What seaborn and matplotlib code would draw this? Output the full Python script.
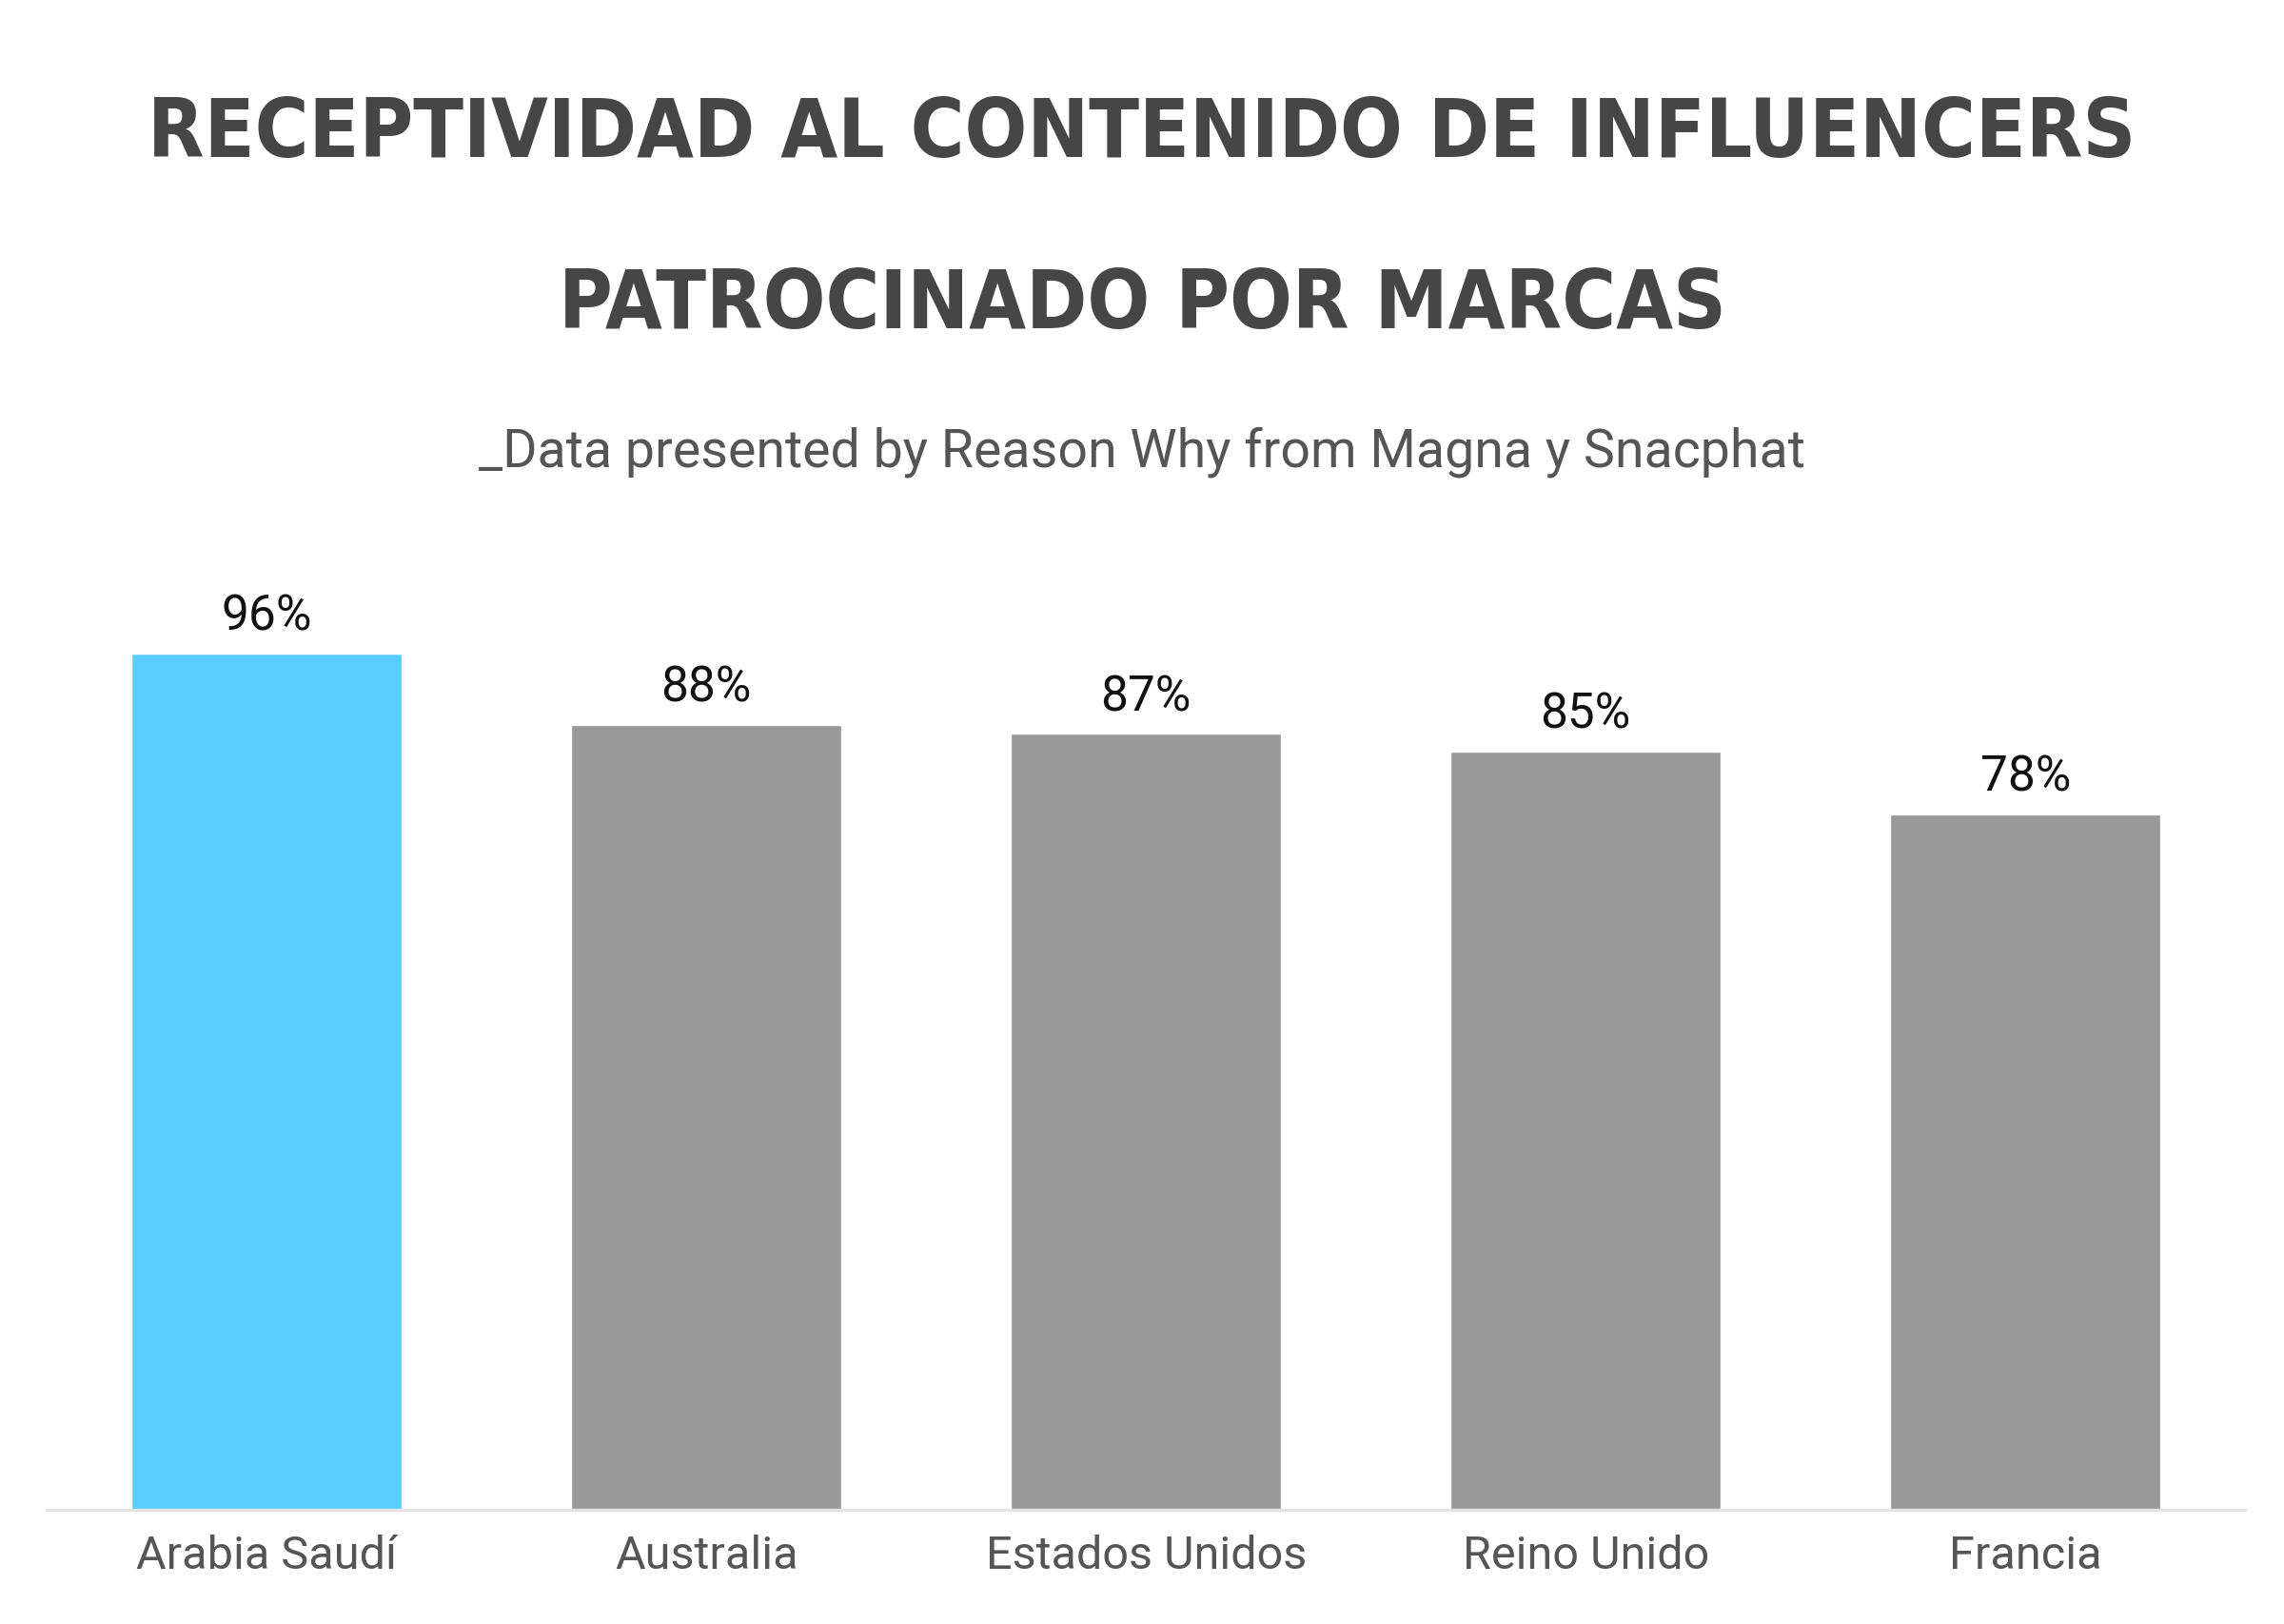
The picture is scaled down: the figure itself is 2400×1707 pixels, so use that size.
import matplotlib
matplotlib.use("Agg")
import matplotlib.pyplot as plt
import seaborn as sns
import pandas as pd

paises = ["Arabia Saudí", "Australia", "Estados Unidos", "Reino Unido", "Francia"]
valores = [96, 88, 87, 85, 78]
colores = ["#5BCDFD", "#999999", "#999999", "#999999", "#999999"]

sns.set_style("white")
plt.rcParams['font.family'] = ['Roboto', 'DejaVu Sans']

df = pd.DataFrame({"pais": paises, "valor": valores})

fig = plt.figure(figsize=(24, 17.08), dpi=100)
ax = fig.add_axes([0.0205, 0.0703, 0.9625, 0.549])

sns.barplot(data=df, x="pais", y="valor", hue="pais", palette=colores,
            width=0.615, legend=False, ax=ax, saturation=1)

ax.set_ylim(0, 100)
ax.set_xlim(-0.5, 4.5)
ax.set_xlabel("")
ax.set_ylabel("")
ax.set_yticks([])
for s in ["top", "right", "left"]:
    ax.spines[s].set_visible(False)
ax.spines["bottom"].set_color("#e3e3e3")
ax.spines["bottom"].set_linewidth(2.5)
ax.tick_params(axis="x", length=0, pad=18, labelsize=35, labelcolor="#555555")

for i, v in enumerate(valores):
    ax.text(i, v + 1.5, f"{v}%", ha="center", va="bottom", fontsize=37,
            color="#111111")

tfont = ['DejaVu Sans']
fig.text(0.5, 0.917, "RECEPTIVIDAD AL CONTENIDO DE INFLUENCERS", ha="center", va="center",
         fontsize=62, fontweight="bold", fontstretch="condensed", color="#464646", family=tfont)
fig.text(0.5, 0.812, "PATROCINADO POR MARCAS", ha="center", va="center",
         fontsize=62, fontweight="bold", fontstretch="condensed", color="#464646", family=tfont)
fig.text(0.5, 0.722, "_Data presented by Reason Why from Magna y Snacphat", ha="center",
         va="center", fontsize=40, color="#555555")

fig.savefig("out.png", dpi=100, facecolor="white")
